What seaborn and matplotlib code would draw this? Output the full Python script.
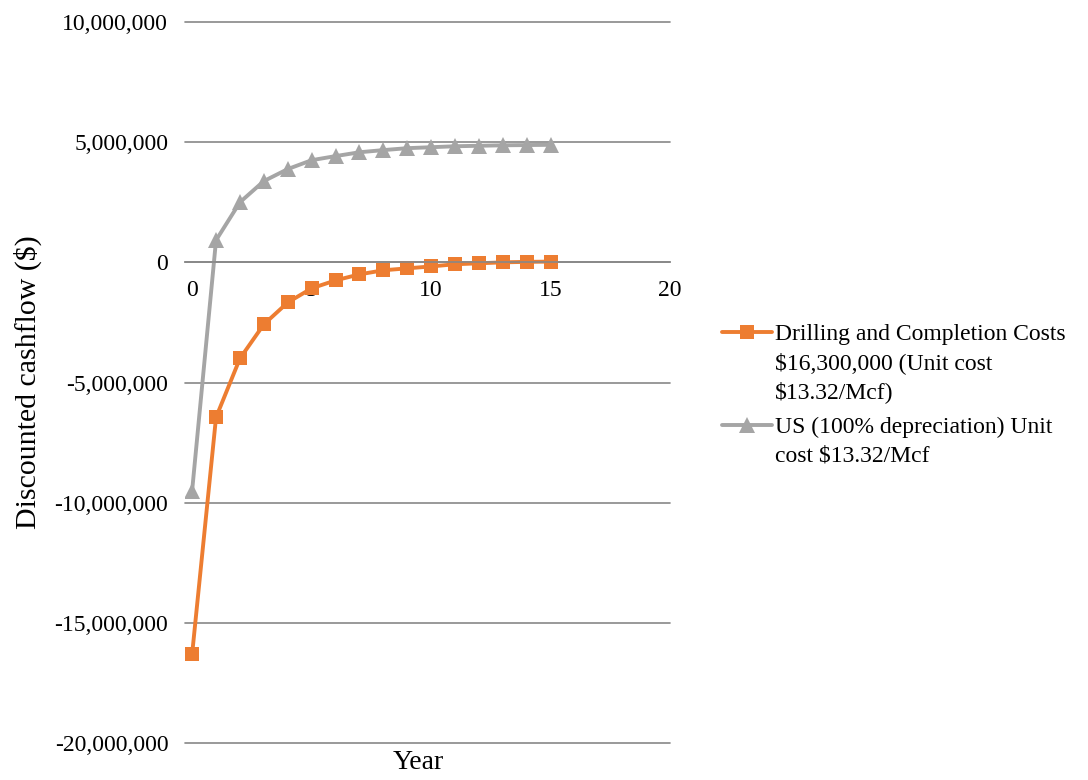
import pandas as pd
import matplotlib.pyplot as plt
import matplotlib.ticker as mticker
from matplotlib.lines import Line2D
import seaborn as sns

# data
years = list(range(16))
drilling = [-16.3, -6.45, -4.0, -2.58, -1.67, -1.08, -0.75, -0.5, -0.33,
            -0.25, -0.17, -0.08, -0.04, 0.0, 0.02, 0.03]
us_depr = [-9.5, 0.92, 2.5, 3.38, 3.88, 4.25, 4.42, 4.58, 4.67,
           4.75, 4.79, 4.83, 4.85, 4.87, 4.88, 4.89]
drill_label = ["Drilling and Completion Costs", "$16,300,000 (Unit cost", "$13.32/Mcf)"]
us_label = ["US (100% depreciation) Unit", "cost $13.32/Mcf"]

orange = "#ED7D31"
grey = "#A5A5A5"

df = pd.DataFrame({"Year": years,
                   "drill": [v * 1e6 for v in drilling],
                   "us": [v * 1e6 for v in us_depr]})

sns.set_style("white")
plt.rcParams['font.family'] = ['Liberation Serif', 'DejaVu Serif']
plt.rcParams['text.color'] = 'black'
plt.rcParams['axes.labelcolor'] = 'black'
plt.rcParams['xtick.color'] = 'black'
plt.rcParams['ytick.color'] = 'black'

fig = plt.figure(figsize=(10.88, 7.8), dpi=100)
ax = fig.add_axes([0.170, 0.0474, 0.446, 0.9244])

sns.lineplot(data=df, x="Year", y="drill", ax=ax, color=orange, lw=2.8,
             marker="s", markersize=10, markeredgewidth=0)
sns.lineplot(data=df, x="Year", y="us", ax=ax, color=grey, lw=2.8,
             marker="^", markersize=11, markeredgewidth=0)

ax.set_xlim(-0.3, 20)
ax.set_ylim(-20e6, 10e6)
ax.set_xticks([0, 5, 10, 15, 20])
ax.set_yticks(range(-20000000, 10000001, 5000000))
ax.yaxis.set_major_formatter(mticker.FuncFormatter(lambda v, p: f"{v:,.0f}"))
ax.grid(axis="y", color="#878787", lw=1.2)
ax.set_axisbelow(True)
for gl in ax.get_ygridlines():
    gl.set_clip_on(False)

for s in ["top", "right", "left"]:
    ax.spines[s].set_visible(False)
ax.spines["bottom"].set_position(("data", 0))
ax.spines["bottom"].set_color("#878787")
ax.spines["bottom"].set_linewidth(1.2)
ax.tick_params(axis="x", direction="out", length=5, width=1.2,
               color="#878787", labelsize=17, pad=8)
ax.tick_params(axis="y", length=0, labelsize=17, pad=12)

ax.set_xlabel("Year", fontsize=20)
ax.xaxis.set_label_coords(0.48, -0.01)
ax.set_ylabel("Discounted cashflow ($)", fontsize=21.5)
ax.yaxis.set_label_coords(-0.295, 0.5)

# legend: handle sits beside the first line of each wrapped label
blank = Line2D([], [], color="none")
h_drill = Line2D([], [], color=orange, lw=2.8, marker="s", markersize=10, markeredgewidth=0)
h_us = Line2D([], [], color=grey, lw=2.8, marker="^", markersize=11, markeredgewidth=0)
leg_kw = dict(loc="upper left", frameon=False, fontsize=17, borderpad=0,
              handlelength=2.1, handletextpad=0.15, labelspacing=0.3)
leg1 = ax.legend([h_drill, blank, blank], drill_label,
                 bbox_to_anchor=(1.083, 0.598), **leg_kw)
ax.add_artist(leg1)
ax.legend([h_us, blank], us_label, bbox_to_anchor=(1.083, 0.469), **leg_kw)

plt.savefig("out.png", dpi=100)
